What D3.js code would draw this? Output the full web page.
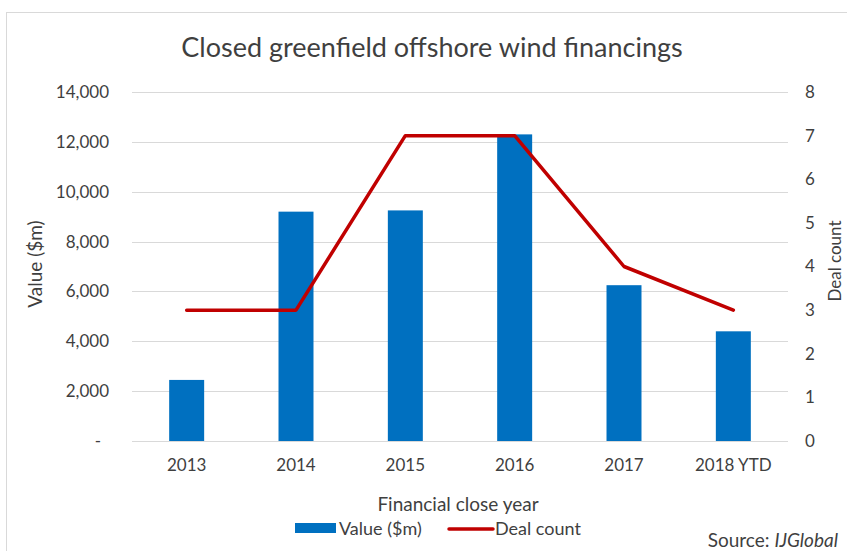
<!DOCTYPE html>
<html>
<head>
<meta charset="utf-8">
<script src="https://cdn.jsdelivr.net/npm/d3@7"></script>
<style>
  body { margin: 0; background: #fff; }
  text { font-family: Lato, "Open Sans", sans-serif; fill: #3f3f3f; }
  .grid line { stroke: #d9d9d9; stroke-width: 1; }
</style>
</head>
<body>
<script>
var width = 847,
    height = 551;

// data
var years = ["2013", "2014", "2015", "2016", "2017", "2018 YTD"];
var values = [2450, 9200, 9250, 12300, 6250, 4400];
var deals = [3, 3, 7, 7, 4, 3];
var leftTicks = [0, 2000, 4000, 6000, 8000, 10000, 12000, 14000];
var rightTicks = [0, 1, 2, 3, 4, 5, 6, 7, 8];

var margin = {left: 132, right: 59, top: 92, bottom: 110};

var svg = d3.select("body").append("svg")
    .attr("width", width)
    .attr("height", height);

// chart border
svg.append("rect")
    .attr("x", 6.5).attr("y", 12.5)
    .attr("width", 860).attr("height", 560)
    .attr("fill", "none")
    .attr("stroke", "#d9d9d9");

var x = d3.scaleBand()
    .domain(years)
    .range([margin.left, width - margin.right])
    .paddingInner(0.68)
    .paddingOuter(0.34);

var y = d3.scaleLinear()
    .domain([0, 14000])
    .range([height - margin.bottom, margin.top]);

var y2 = d3.scaleLinear()
    .domain([0, 8])
    .range([height - margin.bottom, margin.top]);

// gridlines
svg.append("g").attr("class", "grid")
    .selectAll("line").data(leftTicks)
  .enter().append("line")
    .attr("x1", margin.left)
    .attr("x2", width - margin.right)
    .attr("y1", d => Math.round(y(d)) + 0.5)
    .attr("y2", d => Math.round(y(d)) + 0.5);

// left axis labels
var fmt = d3.format(",");
svg.append("g")
    .call(d3.axisLeft(y).tickValues(leftTicks).tickSize(0).tickPadding(23)
      .tickFormat(d => d === 0 ? "-" : fmt(d)))
    .call(g => g.select(".domain").remove())
    .call(g => g.selectAll("text").style("font-size", "17px").attr("fill", "#3f3f3f"))
    .call(g => g.selectAll(".tick").filter(d => d === 0).select("text")
      .attr("text-anchor", "middle").attr("x", -34))
    .attr("transform", "translate(" + margin.left + ",0)");

// right axis labels
svg.append("g")
    .attr("transform", "translate(" + (width - margin.right) + ",0)")
    .call(d3.axisRight(y2).tickValues(rightTicks).tickSize(0).tickPadding(17))
    .call(g => g.select(".domain").remove())
    .call(g => g.selectAll("text").style("font-size", "17px").attr("fill", "#3f3f3f"));

// bars
svg.append("g")
    .selectAll("rect").data(values)
  .enter().append("rect")
    .attr("x", (d, i) => x(years[i]))
    .attr("width", x.bandwidth())
    .attr("y", d => y(d))
    .attr("height", d => y(0) - y(d))
    .attr("fill", "#0070c0");

// deal count line
var line = d3.line()
    .x((d, i) => x(years[i]) + x.bandwidth() / 2)
    .y(d => y2(d));

svg.append("path")
    .datum(deals)
    .attr("d", line)
    .attr("fill", "none")
    .attr("stroke", "#c00000")
    .attr("stroke-width", 3.5)
    .attr("stroke-linejoin", "round")
    .attr("stroke-linecap", "round");

// x axis labels
svg.append("g")
    .attr("transform", "translate(0," + (height - margin.bottom) + ")")
    .call(d3.axisBottom(x).tickSize(0).tickPadding(18))
    .call(g => g.select(".domain").remove())
    .call(g => g.selectAll("text").style("font-size", "17px").attr("fill", "#3f3f3f"));

// title
svg.append("text")
    .attr("x", 432).attr("y", 57)
    .attr("text-anchor", "middle")
    .style("font-size", "27px")
    .text("Closed greenfield offshore wind financings");

// axis titles
svg.append("text")
    .attr("transform", "translate(42,264) rotate(-90)")
    .attr("text-anchor", "middle")
    .style("font-size", "19px")
    .text("Value ($m)");

svg.append("text")
    .attr("transform", "translate(841,261) rotate(-90)")
    .attr("text-anchor", "middle")
    .style("font-size", "17px")
    .text("Deal count");

svg.append("text")
    .attr("x", 458).attr("y", 511)
    .attr("text-anchor", "middle")
    .style("font-size", "19px")
    .text("Financial close year");

// legend
var legend = svg.append("g");
legend.append("rect")
    .attr("x", 295).attr("y", 523)
    .attr("width", 41).attr("height", 10)
    .attr("fill", "#0070c0");
legend.append("text")
    .attr("x", 339).attr("y", 535)
    .style("font-size", "18px")
    .text("Value ($m)");
legend.append("line")
    .attr("x1", 449).attr("x2", 493)
    .attr("y1", 529).attr("y2", 529)
    .attr("stroke", "#c00000")
    .attr("stroke-width", 3.5)
    .attr("stroke-linecap", "round");
legend.append("text")
    .attr("x", 495).attr("y", 535)
    .style("font-size", "18px")
    .text("Deal count");

// source
var src = svg.append("text")
    .attr("x", 838).attr("y", 547)
    .attr("text-anchor", "end")
    .style("font-size", "19px");
src.append("tspan").text("Source: ");
src.append("tspan").style("font-style", "italic").text("IJGlobal");
</script>
</body>
</html>
